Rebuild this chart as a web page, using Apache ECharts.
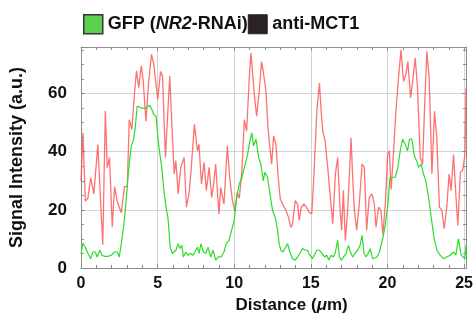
<!DOCTYPE html>
<html>
<head>
<meta charset="utf-8">
<script src="https://cdn.jsdelivr.net/npm/echarts@6/dist/echarts.min.js"></script>
<style>
  html, body { margin: 0; padding: 0; background: #fff; }
  #chart { width: 476px; height: 320px; }
</style>
</head>
<body>
<div id="chart"></div>
<script>
// anti-MCT1 profile (red)
const redX = [
  0, 0.13, 0.28, 0.45, 0.63, 0.84, 1.1, 1.42, 1.59, 1.71,
  1.86, 2.04, 2.19, 2.36, 2.63, 2.84, 3.02, 3.15, 3.32, 3.49,
  3.62, 3.77, 3.93, 4.05, 4.24, 4.4, 4.6, 4.75, 5.01, 5.19,
  5.32, 5.51, 5.79, 5.97, 6.08, 6.19, 6.34, 6.51, 6.73, 6.88,
  7.05, 7.18, 7.4, 7.6, 7.7, 7.86, 8.03, 8.18, 8.36, 8.53,
  8.66, 8.79, 8.94, 9.01, 9.11, 9.33, 9.55, 9.7, 9.88, 10.04,
  10.2, 10.33, 10.5, 10.66, 10.81, 10.98, 11.09, 11.2, 11.31, 11.46,
  11.63, 11.78, 11.89, 12.07, 12.2, 12.33, 12.44, 12.57, 12.72, 12.87,
  13.0, 13.15, 13.37, 13.54, 13.69, 13.8, 13.98, 14.13, 14.24, 14.37,
  14.56, 14.71, 14.89, 15.06, 15.2, 15.39, 15.56, 15.67, 15.78, 15.93,
  16.1, 16.25, 16.43, 16.6, 16.75, 16.91, 17.01, 17.12, 17.25, 17.4,
  17.51, 17.62, 17.73, 17.84, 17.99, 18.16, 18.34, 18.49, 18.64, 18.81,
  18.99, 19.14, 19.25, 19.42, 19.57, 19.7, 19.86, 20.01, 20.12, 20.24,
  20.4, 20.55, 20.72, 20.88, 21.05, 21.2, 21.33, 21.51, 21.64, 21.81,
  21.96, 22.14, 22.29, 22.42, 22.57, 22.72, 22.9, 23.07, 23.22, 23.39,
  23.55, 23.7, 23.87, 24.02, 24.15, 24.31, 24.46, 24.59, 24.76, 24.91,
  25.05, 25.13
]
const redY = [
  30, 46.5, 23, 24, 31, 25.5, 42.5, 8, 54, 34.5,
  38, 14, 28, 23, 19, 28, 28, 51, 47.7, 60,
  67.7, 62, 69.5, 65, 50.5, 63, 73.5, 70, 58, 67.6,
  66, 38, 66, 44.8, 32.3, 36.9, 25.5, 34.6, 38, 20.9,
  25.5, 33.4, 49.4, 40.3, 42.5, 28.9, 36.3, 26.6, 34.6, 24.3,
  28.9, 35.7, 23.2, 18.6, 27.7, 22, 42, 31.2, 23.2, 19.5,
  26, 24, 33.4, 51, 47, 65.4, 74, 73.4, 59.7, 52.2,
  60.8, 71, 67.6, 60.8, 48.3, 41.4, 35.7, 45.4, 42.5, 31.2,
  23.8, 22, 19.8, 17.5, 14, 15, 23.2, 22, 16.4, 20.9,
  22, 20.9, 19.2, 18.6, 32, 54, 63.6, 54, 47, 43.7,
  34.6, 25.5, 15.2, 32.3, 38, 19.8, 13, 26.6, 9.5, 19.8,
  31.2, 44.8, 31.2, 19.8, 13, 22, 35.7, 34.6, 13, 24.3,
  25.5, 22, 14, 20.9, 19.8, 11.5, 22, 39, 40.3, 27,
  40.3, 54, 65.4, 75, 64.2, 66.5, 71, 58.5, 64.2, 72.2,
  61.9, 38, 35.7, 55, 74.5, 65.4, 32.3, 53.9, 44.8, 20.9,
  19.8, 13.5, 20.9, 32.3, 26.6, 39, 25.5, 14.6, 32.9, 33.6,
  39, 62
]

// GFP (NR2-RNAi) profile (green)
const greenX = [
  0, 0.13, 0.28, 0.46, 0.63, 0.78, 0.93, 1.06, 1.22, 1.37,
  1.54, 1.76, 1.97, 2.19, 2.37, 2.5, 2.63, 2.8, 2.95, 3.1,
  3.28, 3.43, 3.54, 3.67, 3.8, 3.93, 4.08, 4.23, 4.36, 4.49,
  4.62, 4.75, 4.9, 5.0, 5.12, 5.27, 5.42, 5.56, 5.68, 5.82,
  5.97, 6.19, 6.34, 6.45, 6.58, 6.68, 6.84, 6.99, 7.16, 7.31,
  7.44, 7.6, 7.7, 7.83, 7.99, 8.14, 8.29, 8.46, 8.62, 8.79,
  8.96, 9.14, 9.33, 9.48, 9.66, 9.83, 10.0, 10.16, 10.33, 10.5,
  10.66, 10.87, 11.02, 11.15, 11.26, 11.42, 11.59, 11.74, 11.89, 12.0,
  12.17, 12.33, 12.5, 12.67, 12.83, 12.93, 13.04, 13.19, 13.32, 13.48,
  13.63, 13.8, 13.98, 14.13, 14.28, 14.45, 14.63, 14.78, 14.93, 15.1,
  15.23, 15.39, 15.56, 15.73, 15.89, 16.04, 16.17, 16.32, 16.47, 16.6,
  16.75, 16.86, 16.99, 17.12, 17.3, 17.45, 17.58, 17.73, 17.88, 18.06,
  18.21, 18.34, 18.47, 18.6, 18.73, 18.88, 19.03, 19.16, 19.31, 19.47,
  19.6, 19.73, 19.86, 20.03, 20.16, 20.33, 20.51, 20.68, 20.83, 20.99,
  21.16, 21.31, 21.44, 21.59, 21.75, 21.9, 22.03, 22.2, 22.35, 22.5,
  22.68, 22.85, 23.03, 23.22, 23.44, 23.66, 23.87, 24.09, 24.31, 24.46,
  24.63, 24.81, 24.96, 25.05, 25.13
]
const greenY = [
  4.9, 8.6, 7.2, 4.9, 3.2, 5.5, 5.5, 3.8, 6.1, 4.4,
  4, 4, 4.4, 5.5, 5.5, 3.8, 8.4, 15.2, 23, 33.4,
  42, 44.3, 48.3, 55.7, 56, 55, 55, 55, 55, 56,
  54.5, 52.8, 52.2, 46, 40, 34.6, 26, 20.5, 17, 7,
  5, 6.1, 8.4, 6.7, 7.8, 3.8, 5.5, 4.4, 5, 4.4,
  5.5, 7.2, 5, 8.4, 5.5, 5, 7.2, 3.8, 6.1, 2.7,
  3.8, 3.8, 5.5, 8.4, 9.5, 13, 16.4, 24.3, 28.9, 31.2,
  34.6, 39, 43.7, 46.5, 42, 44.3, 38, 35.7, 30, 32.9,
  31.2, 25.5, 19.8, 17.5, 13, 8.4, 6.1, 5.5, 5.5, 8.4,
  5.5, 3.2, 2.7, 3.8, 5, 6.7, 6.1, 6.1, 4.4, 3.2,
  2.7, 6.1, 6.1, 5, 3.8, 4.4, 2.7, 4.4, 3.8, 5.5,
  9.5, 3.8, 2.7, 3.2, 5, 7.8, 5.5, 3.8, 5, 6.1,
  7.8, 11.2, 5, 3.8, 5, 6.7, 3.2, 2.7, 3.8, 5.5,
  5, 11, 15, 22, 31, 31.2, 31.2, 34.6, 40.3, 44.3,
  42.5, 40.3, 44.3, 44.3, 38.6, 36.9, 34.6, 35.7, 32.3, 30,
  24.3, 17.5, 10.7, 6.1, 4.4, 3.2, 3.8, 4.4, 5.5, 4.4,
  10.1, 4.4, 3.8, 3, 8
]

// axis ranges
const xRange = [0, 25.13]
const xStep = 5
const yRange = [0, 76]
const yStep = 20

const font = "'Liberation Sans', Arial, sans-serif"
const frameColor = '#8c8c8c'
const gridColor = '#d4d4d4'

const chart = echarts.init(document.getElementById('chart'))

// inward ticks on all four sides, like a boxed plot
function frameAxis(extra) {
  return Object.assign({
    type: 'value',
    axisLine: {show: true, onZero: false, lineStyle: {color: frameColor, width: 1}},
    axisTick: {show: true, inside: true, length: 4, lineStyle: {color: frameColor}},
    minorTick: {show: true, length: 3, lineStyle: {color: frameColor}},
    splitLine: {show: false},
    axisLabel: {show: false}
  }, extra)
}

const tickLabel = (step, size) => ({
  show: true,
  fontFamily: font,
  fontWeight: 'bold',
  fontSize: size,
  color: '#111',
  showMaxLabel: false,
  formatter: v => (Math.abs(v / step - Math.round(v / step)) < 1e-6 ? String(v) : '')
})

const option = {
  animation: false,
  legend: {
    left: 83,
    top: 14,
    padding: 0,
    itemGap: 0,
    itemWidth: 19,
    itemHeight: 19,
    icon: 'rect',
    selectedMode: false,
    data: [
      {name: 'GFP', itemStyle: {color: '#5bd04c', borderColor: '#333', borderWidth: 1.5}},
      {name: 'anti-MCT1', itemStyle: {color: '#2b2323', borderColor: '#2b2323', borderWidth: 1}}
    ],
    formatter: name => name === 'GFP'
      ? '{n|GFP (}{i|NR2}{n|-RNAi)}'
      : '{n|anti-MCT1}',
    textStyle: {
      rich: {
        n: {fontFamily: font, fontWeight: 'bold', fontSize: 18, color: '#111'},
        i: {fontFamily: font, fontWeight: 'bold', fontStyle: 'italic', fontSize: 18, color: '#111'}
      }
    }
  },
  grid: {left: 81, right: 9, top: 47, bottom: 52, containLabel: false},
  xAxis: [
    frameAxis({
      position: 'bottom',
      min: xRange[0], max: xRange[1], interval: xStep,
      minorTick: {show: true, splitNumber: 5, length: 3, lineStyle: {color: frameColor}},
      splitLine: {show: true, lineStyle: {color: gridColor, width: 1}},
      axisLabel: Object.assign(tickLabel(xStep, 16), {margin: 8}),
      name: '{a|Distance (}{b|μ}{a|m)}',
      nameLocation: 'middle',
      nameGap: 27,
      nameTextStyle: {
        padding: [0, 0, 0, 36],
        rich: {
          a: {fontFamily: font, fontWeight: 'bold', fontSize: 17, color: '#111'},
          b: {fontFamily: font, fontWeight: 'bold', fontStyle: 'italic', fontSize: 17, color: '#111'}
        }
      }
    }),
    frameAxis({
      position: 'top',
      min: xRange[0], max: xRange[1], interval: xStep,
      minorTick: {show: true, splitNumber: 5, length: 3, lineStyle: {color: frameColor}}
    })
  ],
  yAxis: [
    frameAxis({
      position: 'left',
      min: yRange[0], max: yRange[1], interval: yStep,
      minorTick: {show: true, splitNumber: 4, length: 3, lineStyle: {color: frameColor}},
      splitLine: {show: true, lineStyle: {color: gridColor, width: 1}},
      axisLabel: Object.assign(tickLabel(yStep, 17), {margin: 14}),
      name: 'Signal Intensity (a.u.)',
      nameLocation: 'middle',
      nameGap: 55,
      nameTextStyle: {fontFamily: font, fontWeight: 'bold', fontSize: 18, color: '#111'}
    }),
    frameAxis({
      position: 'right',
      min: yRange[0], max: yRange[1], interval: yStep,
      minorTick: {show: true, splitNumber: 4, length: 3, lineStyle: {color: frameColor}}
    })
  ],
  series: [
    {
      name: 'anti-MCT1',
      type: 'line',
      showSymbol: false,
      symbol: 'none',
      color: '#ff5a5a',
      lineStyle: {color: '#ff4d4d', width: 1.3, opacity: 0.8},
      data: redX.map((x, i) => [x, redY[i]])
    },
    {
      name: 'GFP',
      type: 'line',
      showSymbol: false,
      symbol: 'none',
      color: '#2fdc2f',
      lineStyle: {color: '#2bdc2b', width: 1.2},
      data: greenX.map((x, i) => [x, greenY[i]])
    }
  ]
}

chart.setOption(option)
</script>
</body>
</html>
